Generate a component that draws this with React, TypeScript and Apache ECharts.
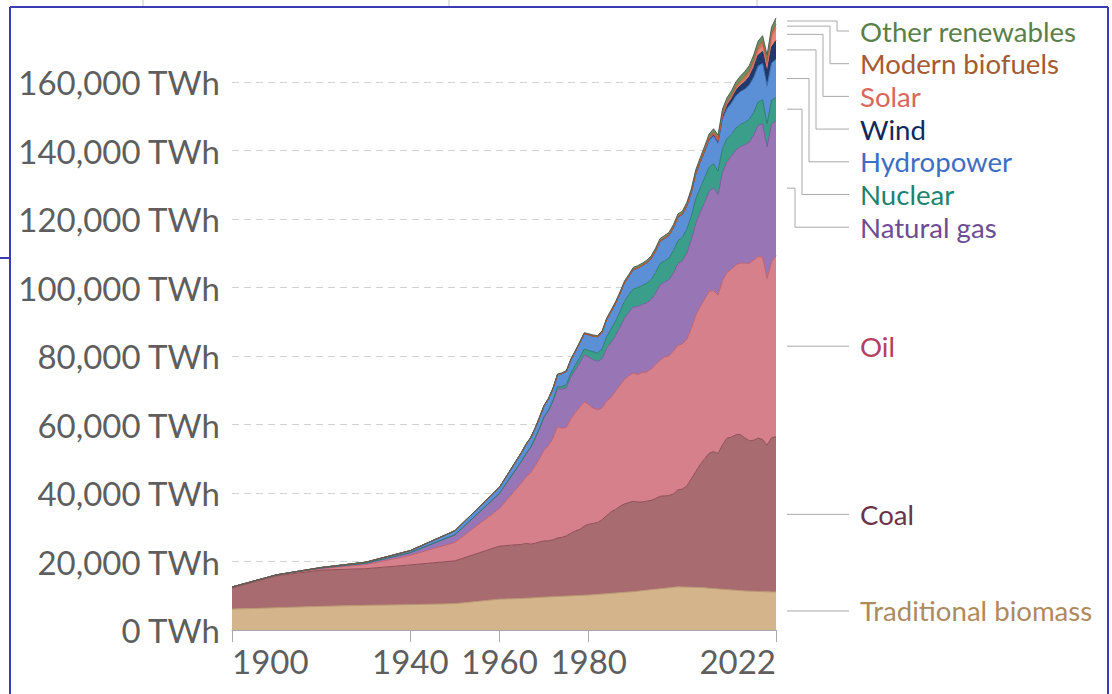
import React, { useEffect, useRef } from 'react';
import * as echarts from 'echarts';

const years = [
  1900, 1910, 1920, 1930, 1940, 1950, 1960,
  1965, 1966, 1967, 1968, 1969, 1970, 1971, 1972, 1973, 1974,
  1975, 1976, 1977, 1978, 1979, 1980, 1981, 1982, 1983, 1984,
  1985, 1986, 1987, 1988, 1989, 1990, 1991, 1992, 1993, 1994,
  1995, 1996, 1997, 1998, 1999, 2000, 2001, 2002, 2003, 2004,
  2005, 2006, 2007, 2008, 2009, 2010, 2011, 2012, 2013, 2014,
  2015, 2016, 2017, 2018, 2019, 2020, 2021, 2022,
];

const traditionalBiomass = [
  6100, 6500, 6900, 7200, 7400, 7700, 9000,
  9200, 9280, 9360, 9440, 9520, 9600, 9660, 9720, 9780, 9840,
  9900, 9960, 10020, 10080, 10140, 10200, 10300, 10400, 10500, 10600,
  10700, 10800, 10900, 11000, 11100, 11200, 11340, 11480, 11620, 11760,
  11900, 12040, 12180, 12320, 12460, 12600, 12560, 12520, 12480, 12440,
  12400, 12300, 12200, 12100, 12000, 11900, 11800, 11700, 11600, 11500,
  11400, 11350, 11300, 11250, 11200, 11150, 11120, 11110,
];

const coal = [
  6200, 9300, 10600, 10700, 11600, 12500, 15500,
  15800, 16000, 15700, 15900, 16200, 16400, 16400, 16600, 17100, 17200,
  17600, 18300, 18900, 19300, 20200, 20700, 20800, 21000, 21700, 22800,
  23800, 24400, 25200, 25800, 26100, 26400, 26000, 25900, 26000, 26100,
  26500, 27000, 27000, 26900, 27300, 28300, 28600, 29500, 31700, 33800,
  35900, 37700, 39400, 40000, 39500, 42200, 44200, 44600, 45400, 45600,
  44700, 43900, 44100, 44800, 44400, 42800, 45000, 45300,
];

const oil = [
  180, 220, 450, 1200, 2800, 5400, 11000,
  18100, 19500, 20900, 22600, 24500, 26600, 27800, 29800, 32500, 31900,
  31700, 33500, 34600, 35700, 36300, 34900, 33700, 32900, 32700, 33400,
  33500, 34500, 35300, 36400, 37000, 37400, 37300, 37800, 37700, 38400,
  39000, 39800, 40600, 40800, 41700, 42200, 42400, 42900, 43800, 45600,
  46100, 46600, 47300, 47000, 46300, 47900, 48400, 49000, 49600, 50000,
  51000, 51800, 52600, 53000, 53300, 48700, 51300, 52900,
];

const naturalGas = [
  60, 60, 150, 400, 800, 2200, 4400,
  6300, 6800, 7300, 8000, 8700, 9500, 10100, 10600, 11100, 11400,
  11500, 12100, 12400, 12900, 13700, 13900, 14100, 14100, 14300, 15400,
  15900, 16200, 17000, 17800, 18600, 19300, 19800, 19900, 20200, 20300,
  20900, 21900, 21800, 22200, 22800, 23900, 24200, 25100, 25900, 26900,
  27500, 28200, 29200, 30000, 29300, 31600, 32300, 33100, 33600, 34000,
  34600, 35400, 36500, 38300, 38900, 38400, 40300, 39400,
];

const nuclear = [
  0, 0, 0, 0, 0, 0, 0,
  70, 90, 110, 140, 170, 220, 300, 400, 550, 700,
  1000, 1150, 1400, 1650, 1700, 1950, 2300, 2500, 2850, 3400,
  3950, 4250, 4550, 4950, 5100, 5300, 5500, 5550, 5700, 5800,
  6050, 6250, 6200, 6350, 6550, 6700, 6850, 6950, 6900, 7150,
  7150, 7200, 7050, 7000, 6900, 7050, 6750, 6300, 6350, 6450,
  6500, 6600, 6650, 6800, 7000, 6750, 7000, 6700,
];

const hydropower = [
  20, 40, 150, 300, 600, 1200, 1800,
  2500, 2650, 2750, 2850, 3050, 3150, 3300, 3400, 3500, 3800,
  3850, 3900, 4000, 4250, 4450, 4550, 4600, 4700, 4900, 5000,
  5100, 5200, 5250, 5400, 5400, 5600, 5750, 5750, 6000, 6050,
  6350, 6450, 6550, 6600, 6650, 6800, 6700, 6800, 6800, 7150,
  7400, 7650, 7800, 8100, 8100, 8600, 8700, 9100, 9400, 9600,
  9700, 10000, 10200, 10500, 10600, 11000, 10800, 11200,
];

const wind = [
  0, 0, 0, 0, 0, 0, 0,
  0, 0, 0, 0, 0, 0, 0, 0, 0, 0,
  0, 0, 0, 0, 0, 0, 0, 0, 0, 0,
  0, 0, 0, 0, 0, 10, 10, 12, 15, 20,
  25, 30, 40, 50, 60, 80, 100, 130, 160, 220,
  270, 340, 440, 570, 700, 900, 1150, 1350, 1600, 1800,
  2150, 2450, 2900, 3200, 3500, 4050, 4700, 5500,
];

const solar = [
  0, 0, 0, 0, 0, 0, 0,
  0, 0, 0, 0, 0, 0, 0, 0, 0, 0,
  0, 0, 0, 0, 0, 0, 0, 0, 0, 0,
  0, 0, 0, 0, 0, 0, 0, 0, 0, 0,
  0, 0, 0, 0, 0, 3, 4, 5, 6, 7,
  10, 15, 20, 30, 50, 85, 170, 260, 380, 500,
  650, 850, 1150, 1500, 1900, 2300, 2900, 3600,
];

const modernBiofuels = [
  0, 0, 0, 0, 0, 0, 0,
  0, 0, 0, 0, 0, 0, 0, 0, 0, 0,
  0, 0, 0, 0, 0, 0, 0, 0, 0, 0,
  0, 0, 0, 0, 0, 110, 115, 115, 120, 125,
  130, 130, 135, 130, 125, 110, 120, 140, 170, 200,
  240, 320, 420, 530, 580, 660, 660, 680, 740, 800,
  840, 870, 920, 1000, 1070, 1000, 1100, 1200,
];

const otherRenewables = [
  0, 0, 0, 0, 0, 0, 0,
  140, 145, 150, 160, 170, 180, 190, 200, 210, 225,
  240, 250, 260, 280, 300, 310, 330, 350, 370, 400,
  430, 460, 480, 500, 530, 560, 570, 580, 600, 620,
  650, 670, 690, 710, 730, 750, 760, 790, 820, 860,
  900, 940, 980, 1020, 1080, 1200, 1250, 1300, 1360, 1430,
  1500, 1540, 1580, 1620, 1650, 1700, 1750, 1800,
];

const xTickValues = [1900, 1940, 1960, 1980, 2022];

const sources = [
  { name: 'Traditional biomass', data: traditionalBiomass, fill: '#d3b48b', stroke: '#b99870', label: '#ae8a5e' },
  { name: 'Coal', data: coal, fill: '#a86b6f', stroke: '#8c4e57', label: '#6c3348' },
  { name: 'Oil', data: oil, fill: '#d6808b', stroke: '#c0606f', label: '#b5405d' },
  { name: 'Natural gas', data: naturalGas, fill: '#9876b6', stroke: '#7a5a9c', label: '#6d4c94' },
  { name: 'Nuclear', data: nuclear, fill: '#3b9e8b', stroke: '#2a7e6f', label: '#1e8270' },
  { name: 'Hydropower', data: hydropower, fill: '#5b8fd6', stroke: '#4170b4', label: '#3d6ec4' },
  { name: 'Wind', data: wind, fill: '#1f3a6e', stroke: '#1a2f58', label: '#13295a' },
  { name: 'Solar', data: solar, fill: '#e8847c', stroke: '#d0675f', label: '#d8675c' },
  { name: 'Modern biofuels', data: modernBiofuels, fill: '#c47b4f', stroke: '#a35f38', label: '#a55a33' },
  { name: 'Other renewables', data: otherRenewables, fill: '#6e9160', stroke: '#4f5f55', label: '#5a7f4b' },
];

const FONT = 'Lato, "Noto Sans", sans-serif';

export default function App() {
  const ref = useRef<HTMLDivElement>(null);

  useEffect(() => {
    document.body.style.margin = '0';
    const chart = echarts.init(ref.current as HTMLDivElement, null, { renderer: 'svg' });

    const option: any = {
      animation: false,
      grid: { left: 232, right: 336, top: 13.5, bottom: 64, containLabel: false, outerBoundsMode: 'none' },
      xAxis: {
        type: 'value',
        min: 1900,
        max: 2022,
        axisLine: { show: true, lineStyle: { color: '#a8a8a8', width: 1 } },
        axisTick: { show: true, customValues: xTickValues, length: 12, lineStyle: { color: '#a8a8a8' } },
        axisLabel: {
          customValues: xTickValues,
          fontFamily: FONT,
          fontSize: 33,
          color: '#5e5e5e',
          margin: 14,
          alignMinLabel: 'left',
          alignMaxLabel: 'right',
          formatter: (v: number) => String(v),
        },
        splitLine: { show: false },
      },
      yAxis: {
        type: 'value',
        min: 0,
        max: 180000,
        interval: 20000,
        axisLine: { show: false },
        axisTick: { show: false },
        axisLabel: {
          fontFamily: FONT,
          fontSize: 33,
          color: '#5e5e5e',
          margin: 12,
          showMaxLabel: false,
          formatter: (v: number) => v.toLocaleString('en-US') + ' TWh',
        },
        splitLine: {
          show: true,
          showMaxLine: false,
          showMinLine: false,
          lineStyle: { type: [7, 5], color: '#d2d2d2', width: 1 },
        },
      },
      series: sources.map((s) => ({
        name: s.name,
        type: 'line',
        stack: 'total',
        // value first so that the stacked dimension is the y value
        data: years.map((y, i) => [s.data[i], y]),
        encode: { x: 1, y: 0 },
        showSymbol: false,
        symbol: 'none',
        lineStyle: { color: s.stroke, width: 1 },
        itemStyle: { color: s.fill },
        areaStyle: { color: s.fill, opacity: 1 },
        emphasis: { disabled: true },
      })),
    };
    chart.setOption(option);

    // right-hand labels with leader lines
    const last = years.length - 1;
    const lastYear = years[last];
    let cum = 0;
    const ideal: number[] = [];
    sources.forEach((s) => {
      const v = s.data[last];
      const mid = cum + v / 2;
      cum += v;
      const p = chart.convertToPixel({ gridIndex: 0 }, [lastYear, mid]) as number[];
      ideal.push(p[1]);
    });
    const xEnd = (chart.convertToPixel({ gridIndex: 0 }, [lastYear, 0]) as number[])[0];

    const order = sources.map((_, i) => i).reverse();
    const spacing = 32.7;
    const topBound = 31;
    const labelY: number[] = new Array(sources.length).fill(0);
    let prev = -Infinity;
    order.forEach((idx, k) => {
      const minY = k === 0 ? topBound : prev + spacing;
      const y = Math.max(ideal[idx], minY);
      labelY[idx] = y;
      prev = y;
    });

    const startX = xEnd + 11;
    const endX = 849;
    const textX = 860;
    const graphics: any[] = [];
    const shiftedCount = order.filter((idx) => Math.abs(labelY[idx] - ideal[idx]) > 0.5).length;
    let shiftedIdx = 0;
    order.forEach((idx) => {
      const s = sources[idx];
      const y0 = ideal[idx];
      const y1 = labelY[idx];
      let points: number[][];
      if (Math.abs(y1 - y0) > 0.5) {
        const ex = 795 + (shiftedCount - 1 - shiftedIdx) * 7;
        shiftedIdx++;
        points = [[startX, y0], [ex, y0], [ex, y1], [endX, y1]];
      } else {
        points = [[startX, y0], [endX, y0]];
      }
      graphics.push({
        type: 'polyline',
        silent: true,
        shape: { points },
        style: { stroke: '#a9a9a9', lineWidth: 1, fill: null },
      });
      graphics.push({
        type: 'text',
        silent: true,
        x: textX,
        y: y1,
        style: {
          text: s.name,
          fill: s.label,
          fontFamily: FONT,
          fontSize: 27.6,
          align: 'left',
          verticalAlign: 'middle',
        },
      });
    });

    const frame = '#3b3bb5';
    graphics.push(
      { type: 'line', silent: true, shape: { x1: 10, y1: 7, x2: 1108, y2: 7 }, style: { stroke: frame, lineWidth: 2 } },
      { type: 'line', silent: true, shape: { x1: 10, y1: 7, x2: 10, y2: 694 }, style: { stroke: frame, lineWidth: 2 } },
      { type: 'line', silent: true, shape: { x1: 1108, y1: 7, x2: 1108, y2: 694 }, style: { stroke: frame, lineWidth: 2 } },
      { type: 'line', silent: true, shape: { x1: 0, y1: 258, x2: 10, y2: 258 }, style: { stroke: frame, lineWidth: 2 } },
      { type: 'line', silent: true, shape: { x1: 143, y1: 0, x2: 143, y2: 6 }, style: { stroke: '#c9c9c9', lineWidth: 1 } },
      { type: 'line', silent: true, shape: { x1: 449, y1: 0, x2: 449, y2: 6 }, style: { stroke: '#c9c9c9', lineWidth: 1 } },
      { type: 'line', silent: true, shape: { x1: 757, y1: 0, x2: 757, y2: 6 }, style: { stroke: '#c9c9c9', lineWidth: 1 } },
    );

    chart.setOption({ graphic: graphics });

    return () => {
      chart.dispose();
    };
  }, []);

  return <div ref={ref} style={{ width: 1112, height: 694 }} />;
}
